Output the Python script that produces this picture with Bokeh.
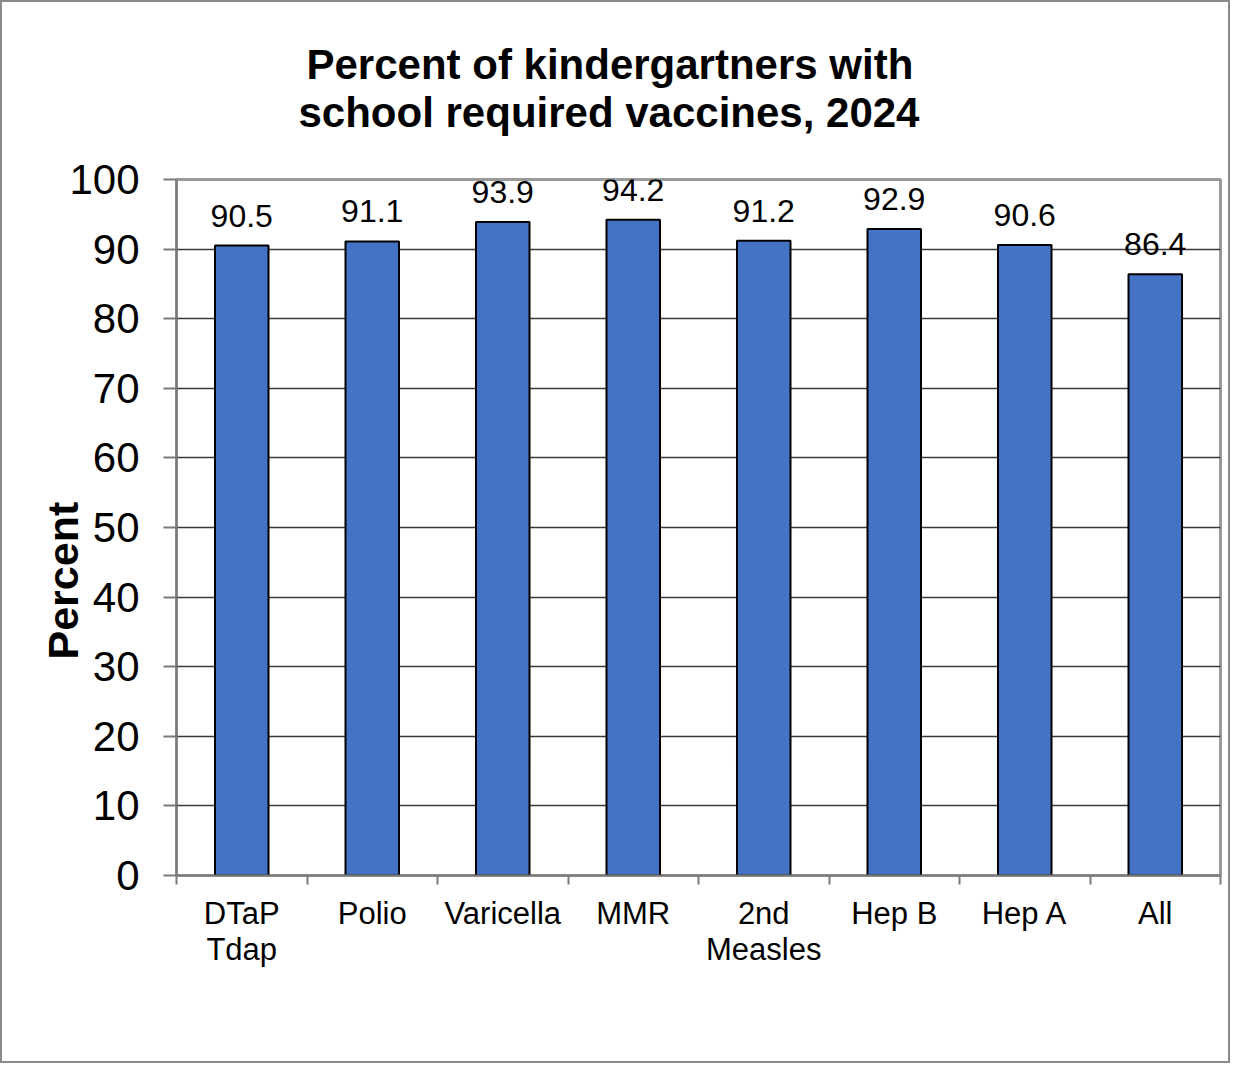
import math
from bokeh.plotting import figure
from bokeh.models import (ColumnDataSource, Range1d, FixedTicker, CustomJSTickFormatter,
                          LabelSet, Title)
from bokeh.core.properties import value
from bokeh.embed import file_html
from bokeh.resources import INLINE

# ---- data ----
categories = ["DTaP\nTdap", "Polio", "Varicella", "MMR", "2nd\nMeasles", "Hep B", "Hep A", "All"]
values = [90.5, 91.1, 93.9, 94.2, 91.2, 92.9, 90.6, 86.4]
y_ticks = [0, 10, 20, 30, 40, 50, 60, 70, 80, 90, 100]
title_lines = ["Percent of kindergartners with", "school required vaccines, 2024"]
y_title = "Percent"

FONT = "Liberation Sans"
n = len(categories)
xs = [i + 0.5 for i in range(n)]

src = ColumnDataSource(dict(x=xs, top=values, label=[f"{v:.1f}" for v in values]))

W, H = 1230, 1063
p = figure(width=W, height=H, output_backend="svg", toolbar_location=None,
           x_range=Range1d(0, n), y_range=Range1d(0, 100), title=None,
           min_border_left=174, min_border_right=12, min_border_top=177,
           min_border_bottom=190, background_fill_color="white",
           border_fill_color="white", styles={"border": "2px solid #8a8a8a"})

p.vbar(x="x", top="top", width=0.41, source=src, fill_color="#4472C4",
       line_color="black", line_width=2)

p.add_layout(LabelSet(x="x", y="top", text="label", source=src, y_offset=19,
                      text_align="center", text_baseline="alphabetic",
                      text_font=value(FONT), text_font_size=value("32px"),
                      text_color="black"))

# frame / grid
p.outline_line_color = "#9a9a9a"
p.outline_line_width = 3
p.xgrid.grid_line_color = None
p.ygrid.grid_line_color = "#3a3a3a"
p.ygrid.grid_line_width = 1.3
p.ygrid.ticker = FixedTicker(ticks=y_ticks)

# y axis
ya = p.yaxis[0]
ya.ticker = FixedTicker(ticks=y_ticks)
ya.major_label_text_font = FONT
ya.major_label_text_font_size = "42px"
ya.major_label_text_color = "black"
ya.major_tick_out = 13
ya.major_tick_in = 0
ya.minor_tick_line_color = None
ya.axis_line_color = "#7a7a7a"
ya.axis_line_width = 2
ya.major_tick_line_color = "#7a7a7a"
ya.major_tick_line_width = 2
ya.major_label_standoff = 24

# x axis
xa = p.xaxis[0]
xa.ticker = FixedTicker(ticks=xs, minor_ticks=list(range(n + 1)))
xa.formatter = CustomJSTickFormatter(args=dict(labels=categories),
                                     code="return labels[Math.floor(tick)];")
xa.major_label_text_font = FONT
xa.major_label_text_font_size = "31px"
xa.major_label_text_color = "black"
xa.major_label_text_line_height = 1.05
xa.major_tick_line_color = None
xa.major_tick_out = 0
xa.major_tick_in = 0
xa.minor_tick_out = 9
xa.minor_tick_in = 0
xa.minor_tick_line_color = "#7a7a7a"
xa.minor_tick_line_width = 2
xa.axis_line_color = "#7a7a7a"
xa.axis_line_width = 2
xa.major_label_standoff = 11

# titles (closest to the frame added first)
p.add_layout(Title(text=title_lines[1], align="left", offset=122, standoff=88,
                   text_font=FONT, text_font_size="42px", text_font_style="bold",
                   text_color="black"), "above")
p.add_layout(Title(text=title_lines[0], align="left", offset=130, standoff=-90,
                   text_font=FONT, text_font_size="42px", text_font_style="bold",
                   text_color="black"), "above")
p.add_layout(Title(text=y_title, align="left", offset=216, standoff=-41,
                   text_font=FONT, text_font_size="43px", text_font_style="bold",
                   text_color="black"), "left")

open("out.html", "w").write(file_html(p, INLINE))
